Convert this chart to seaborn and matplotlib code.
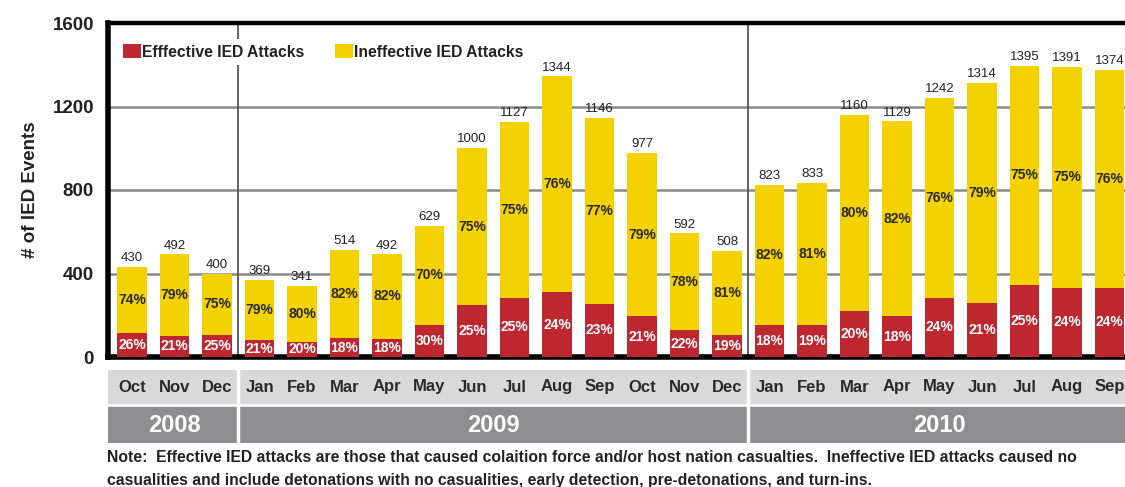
import matplotlib
matplotlib.use("Agg")
import matplotlib.pyplot as plt
import seaborn as sns
import pandas as pd
from matplotlib.patches import Patch

# ---------------- data ----------------
months = ["Oct", "Nov", "Dec",
          "Jan", "Feb", "Mar", "Apr", "May", "Jun", "Jul", "Aug", "Sep", "Oct", "Nov", "Dec",
          "Jan", "Feb", "Mar", "Apr", "May", "Jun", "Jul", "Aug", "Sep"]
years = ["2008"] * 3 + ["2009"] * 12 + ["2010"] * 9
total_events = [430, 492, 400, 369, 341, 514, 492, 629, 1000, 1127, 1344, 1146, 977, 592, 508,
                823, 833, 1160, 1129, 1242, 1314, 1395, 1391, 1374]
effective_events = [115, 101, 104, 81, 72, 91, 88, 153, 248, 285, 311, 256, 195, 128, 104,
                    152, 152, 220, 195, 285, 259, 347, 332, 332]
effective_pct = [26, 21, 25, 21, 20, 18, 18, 30, 25, 25, 24, 23, 21, 22, 19,
                 18, 19, 20, 18, 24, 21, 25, 24, 24]
ineffective_pct = [74, 79, 75, 79, 80, 82, 82, 70, 75, 75, 76, 77, 79, 78, 81,
                   82, 81, 80, 82, 76, 79, 75, 75, 76]
year_labels = ["2008", "2009", "2010"]
y_ticks = [0, 400, 800, 1200, 1600]
legend_labels = ["Efffective IED Attacks", "Ineffective IED Attacks"]
note_lines = [
    "Note:  Effective IED attacks are those that caused colaition force and/or host nation casualties.  Ineffective IED attacks caused no",
    "casualities and include detonations with no casualities, early detection, pre-detonations, and turn-ins.",
]

RED = "#BE2630"
YELLOW = "#F4D100"

df = pd.DataFrame({
    "period": [f"{m} {y}" for m, y in zip(months, years)],
    "month": months,
    "year": years,
    "total": total_events,
    "effective": effective_events,
})

sns.set_theme(style="white")
plt.rcParams["font.family"] = ["Liberation Sans", "DejaVu Sans"]

W, H = 1125, 487
fig = plt.figure(figsize=(W / 100, H / 100), dpi=100)

ax_left = 108 / W
ax_w = 1027 / W
ax = fig.add_axes([ax_left, 1 - 357 / H, ax_w, 334 / H])

sns.barplot(data=df, x="period", y="total", color=YELLOW, saturation=1,
            width=0.69, linewidth=0, ax=ax, zorder=3)
sns.barplot(data=df, x="period", y="effective", color=RED, saturation=1,
            width=0.69, linewidth=0, ax=ax, zorder=4)

ax.set_xlim(-0.565, 23.6)
ax.set_ylim(0, 1600)
ax.set_yticks(y_ticks)
ax.set_yticklabels([str(t) for t in y_ticks], fontsize=13.5, fontweight="bold", color="#222222")
ax.tick_params(axis="y", length=0, pad=10)
ax.set_xticks([])
ax.set_xlabel("")
ax.set_ylabel("# of IED Events", fontsize=13.5, fontweight="bold", color="#222222", labelpad=10)

for y in [400, 800, 1200]:
    ax.axhline(y, color="#8a8a8a", lw=1.8, zorder=1)

n = len(months)
for i in range(1, n):
    if years[i] != years[i - 1]:
        ax.axvline(i - 0.5, color="#555555", lw=1.3, zorder=2)

for s in ["top", "bottom", "left", "right"]:
    ax.spines[s].set_color("black")
ax.spines["top"].set_linewidth(3.2)
ax.spines["bottom"].set_linewidth(4)
ax.spines["left"].set_linewidth(4)
ax.spines["right"].set_visible(False)

for i in range(n):
    t = total_events[i]
    e = effective_events[i]
    ax.annotate(str(t), (i, t), xytext=(0, 2), textcoords="offset points",
                ha="center", va="bottom", fontsize=9.5, color="#222222", zorder=6)
    ax.text(i, (t + e) / 2, f"{ineffective_pct[i]}%", ha="center", va="center",
            fontsize=10, fontweight="bold", color="#2a2a2a", zorder=6)
    ax.text(i, e / 2, f"{effective_pct[i]}%", ha="center", va="center",
            fontsize=10, fontweight="bold", color="white", zorder=6)

handles = [Patch(facecolor=RED, edgecolor="none"), Patch(facecolor=YELLOW, edgecolor="none")]
leg = ax.legend(handles, legend_labels, loc="upper left", bbox_to_anchor=(0.009, 0.953),
                ncol=2, frameon=True, facecolor="white", edgecolor="none", framealpha=1,
                borderaxespad=0, borderpad=0.35, handlelength=1.15, handleheight=1.0,
                handletextpad=0.05, columnspacing=2.0,
                prop={"size": 11.3, "weight": "bold"})
leg.set_zorder(5)
for txt in leg.get_texts():
    txt.set_color("#222222")

# ---------------- bottom bands ----------------
band = fig.add_axes([ax_left, 1 - 443 / H, ax_w, 73 / H])
band.set_xlim(-0.565, 23.6)
band.set_ylim(73, 0)
band.axhspan(0, 33, color="#d9d9d9", zorder=1)
band.axhspan(37, 73, color="#8e8e90", zorder=1)
for i in range(1, n):
    if years[i] != years[i - 1]:
        band.axvline(i - 0.5, color="white", lw=2.5, zorder=2)
for i, m in enumerate(months):
    band.text(i, 17, m, ha="center", va="center", fontsize=12, fontweight="bold",
              color="#2a2a2a", zorder=3)
for yl in year_labels:
    idx = [i for i, y in enumerate(years) if y == yl]
    cx = (idx[0] + idx[-1]) / 2
    band.text(cx, 55.5, yl, ha="center", va="center", fontsize=17, fontweight="bold",
              color="white", zorder=3)
band.set_axis_off()

for k, line in enumerate(note_lines):
    fig.text(107 / W, 1 - (458 + 23 * k) / H, line, ha="left", va="center", fontsize=11.3,
             fontweight="bold", color="#222222")

fig.savefig("out.png", dpi=100)
